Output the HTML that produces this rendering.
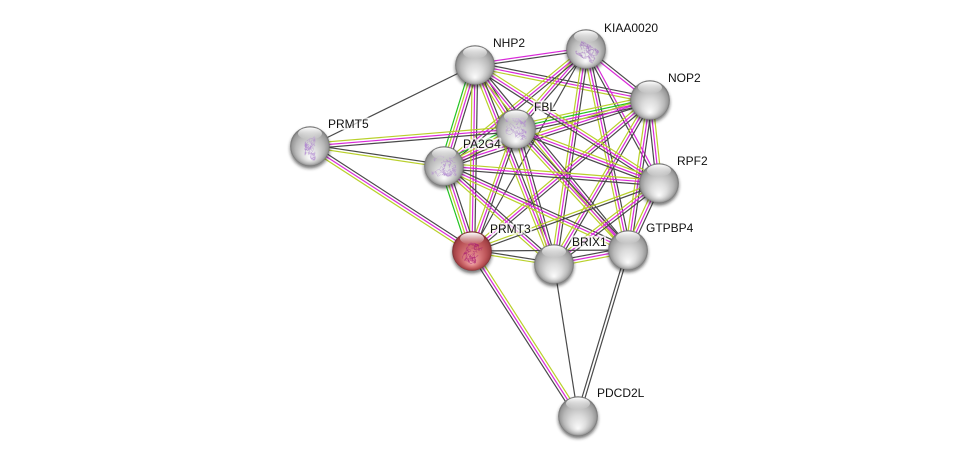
<!DOCTYPE html>
<html><head><meta charset="utf-8"><style>
html,body{margin:0;padding:0;background:#fff;width:976px;height:460px;overflow:hidden}
svg{display:block}
text{font:12px "Liberation Sans",sans-serif;fill:#111}
.h{stroke:#fff;stroke-width:4;stroke-opacity:.7;fill:#fff;fill-opacity:.7;stroke-linejoin:round}
</style></head><body>
<svg xmlns="http://www.w3.org/2000/svg" width="976" height="460" viewBox="0 0 976 460">
<defs>
<radialGradient id="g" cx=".5" cy=".5" r=".5" fx=".5" fy=".82">
<stop offset="0" stop-color="#fbfbfb"/><stop offset=".4" stop-color="#dcdcdc"/><stop offset=".72" stop-color="#b9b9b9"/><stop offset=".92" stop-color="#989898"/><stop offset="1" stop-color="#6e6e6e"/></radialGradient>
<radialGradient id="r" cx=".5" cy=".5" r=".5" fx=".5" fy=".82">
<stop offset="0" stop-color="#f2a9ab"/><stop offset=".4" stop-color="#d8797c"/><stop offset=".72" stop-color="#bc5458"/><stop offset=".92" stop-color="#a04044"/><stop offset="1" stop-color="#762a2d"/></radialGradient>
<linearGradient id="hl" x1="0" y1="0" x2="0" y2="1"><stop offset="0" stop-color="#fff" stop-opacity="1"/><stop offset="1" stop-color="#fff" stop-opacity="0"/></linearGradient>
<filter id="b" x="-30%" y="-30%" width="160%" height="160%"><feGaussianBlur stdDeviation="1.5"/></filter>
</defs>
<g id="edges" fill="none" stroke-width="1.2"></g>
<g id="nodes"></g>
<g>
<text class="h" x="493" y="47">NHP2</text><text x="493" y="47">NHP2</text>
<text class="h" x="604" y="32">KIAA0020</text><text x="604" y="32">KIAA0020</text>
<text class="h" x="668" y="82">NOP2</text><text x="668" y="82">NOP2</text>
<text class="h" x="534" y="111">FBL</text><text x="534" y="111">FBL</text>
<text class="h" x="328" y="128">PRMT5</text><text x="328" y="128">PRMT5</text>
<text class="h" x="463" y="148">PA2G4</text><text x="463" y="148">PA2G4</text>
<text class="h" x="677" y="165">RPF2</text><text x="677" y="165">RPF2</text>
<text class="h" x="646" y="232">GTPBP4</text><text x="646" y="232">GTPBP4</text>
<text class="h" x="572" y="246">BRIX1</text><text x="572" y="246">BRIX1</text>
<text class="h" x="490" y="233">PRMT3</text><text x="490" y="233">PRMT3</text>
<text class="h" x="597" y="397">PDCD2L</text><text x="597" y="397">PDCD2L</text>
</g>
</svg>
<script>
var NS="http://www.w3.org/2000/svg";
var N={PDCD2L:[578,416],RPF2:[659,183],NOP2:[650,100],KIAA:[586,49],NHP2:[475,65],FBL:[516,129],PRMT5:[310,146],PA2G4:[444,166],PRMT3:[472,251],BRIX1:[554,264],GTPBP4:[628,250]};
var C={y:"#b9d02c",m:"#d92ad9",k:"#4a4a4a",g:"#22c422"};
var E=[
"NHP2 KIAA km","NHP2 NOP2 ymk","KIAA NOP2 mk","KIAA FBL ymk","KIAA PA2G4 ymk","KIAA PRMT3 k","RPF2 KIAA mk","KIAA GTPBP4 ymk","KIAA BRIX1 ymk",
"NOP2 FBL ygmk","NOP2 PA2G4 ymk","NOP2 PRMT3 ymk","RPF2 NOP2 ymk","NOP2 GTPBP4 ymk","NOP2 BRIX1 ymk",
"NHP2 FBL ymk","NHP2 PA2G4 gymk","NHP2 PRMT3 ymk","RPF2 NHP2 ymk","NHP2 GTPBP4 ymk","NHP2 BRIX1 ymk",
"FBL PA2G4 gymk","FBL PRMT3 ymk","RPF2 FBL ymk","FBL GTPBP4 ymk","FBL BRIX1 ymk",
"RPF2 PA2G4 ymk","PA2G4 GTPBP4 ymk","PA2G4 BRIX1 ymk","PA2G4 PRMT3 gymk",
"RPF2 GTPBP4 ymk","RPF2 BRIX1 ymk","BRIX1 GTPBP4 ymk","RPF2 PRMT3 yk","PRMT3 BRIX1 yk","PRMT3 GTPBP4 k",
"NHP2 PRMT5 k","FBL PRMT5 ymk","PRMT5 PA2G4 yk","PRMT5 PRMT3 ymk",
"PDCD2L PRMT3 ymk","PDCD2L BRIX1 k","PDCD2L GTPBP4 kk"];
var eg=document.getElementById("edges"),ng=document.getElementById("nodes");
function el(t,a,p){var e=document.createElementNS(NS,t);for(var k in a)e.setAttribute(k,a[k]);p.appendChild(e);return e}
E.forEach(function(s){var q=s.split(" "),A=N[q[0]],B=N[q[1]],t=q[2],dx=B[0]-A[0],dy=B[1]-A[1],L=Math.hypot(dx,dy),nx=-dy/L,ny=dx/L,sp=t=="kk"?3:2.7;
for(var i=0;i<t.length;i++){var o=((t.length-1)/2-i)*sp;
el("line",{x1:A[0]+nx*o,y1:A[1]+ny*o,x2:B[0]+nx*o,y2:B[1]+ny*o,stroke:C[t[i]]},eg)}});
var seed=7;function R(){seed=(seed*16807)%2147483647;return seed/2147483647}
function scribble(c,w,h,col,rot){var g=el("g",{transform:"translate("+c[0]+","+c[1]+") rotate("+rot+")",fill:"none",stroke:col,"stroke-width":".5","stroke-opacity":".6"},ng);
for(var j=0;j<16;j++){var x=(R()-.5)*w,y=(R()-.5)*h,d="M"+x.toFixed(1)+" "+y.toFixed(1);
for(var i=0;i<14;i++){x=Math.max(-w/2,Math.min(w/2,x+(R()-.5)*5));y=Math.max(-h/2,Math.min(h/2,y+(R()-.5)*5));d+="L"+x.toFixed(1)+" "+y.toFixed(1)}
el("path",{d:d},g)}}
Object.keys(N).forEach(function(k){var c=N[k],red=k=="PRMT3";
el("ellipse",{cx:c[0],cy:c[1]+2.5,rx:20,ry:20,fill:"#222","fill-opacity":".6",filter:"url(#b)"},ng);
el("circle",{cx:c[0],cy:c[1],r:19.8,fill:red?"url(#r)":"url(#g)"},ng);
if(k=="KIAA")scribble([c[0]+1,c[1]+3],20,14,"#a070c0",30);
if(k=="FBL")scribble([c[0],c[1]],20,22,"#b088d0",0);
if(k=="PRMT5")scribble([c[0],c[1]+2],10,24,"#b088d0",0);
if(k=="PA2G4")scribble([c[0],c[1]],24,20,"#b088d0",0);
if(red)scribble([c[0],c[1]+2],14,20,"#a81c70",25);
el("ellipse",{cx:c[0],cy:c[1]-12.5,rx:12,ry:6,fill:"url(#hl)"},ng);
});
</script>
</body></html>
